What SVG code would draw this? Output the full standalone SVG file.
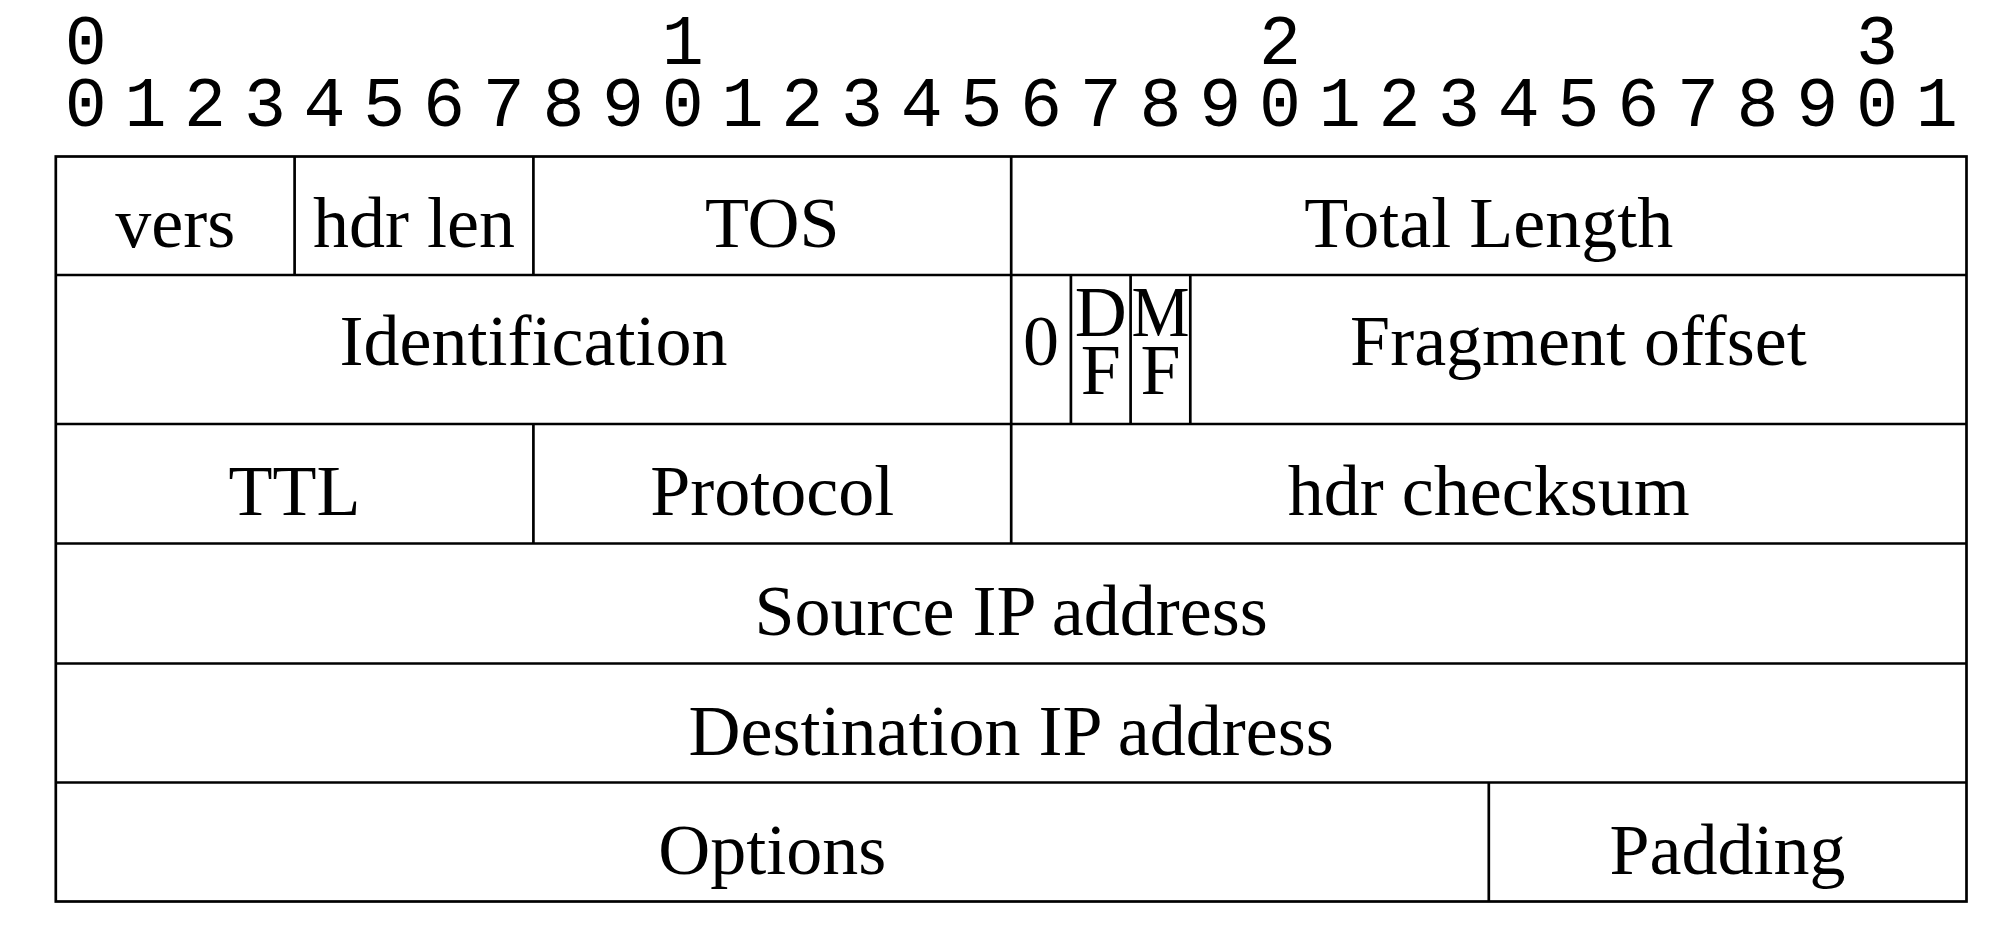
<svg xmlns="http://www.w3.org/2000/svg" width="2014" height="932" viewBox="0 0 2014 932">
<style>
.ln{stroke:#000;stroke-width:2.7;fill:none}
.t{font-family:"Liberation Serif","Times New Roman",serif;font-size:72px;fill:#000;text-anchor:middle}
.d{font-family:"Liberation Mono","Courier New",monospace;font-size:70px;fill:#000;text-anchor:middle}
</style>
<rect width="2014" height="932" fill="#fff"/>
<g id="bit-ruler">
<text class="d" x="85.7" y="64">0</text>
<text class="d" x="682.8" y="64">1</text>
<text class="d" x="1279.9" y="64">2</text>
<text class="d" x="1877.0" y="64">3</text>
<text class="d" y="126"><tspan x="85.7">0</tspan><tspan x="145.4">1</tspan><tspan x="205.1">2</tspan><tspan x="264.9">3</tspan><tspan x="324.6">4</tspan><tspan x="384.3">5</tspan><tspan x="444.0">6</tspan><tspan x="503.7">7</tspan><tspan x="563.4">8</tspan><tspan x="623.1">9</tspan><tspan x="682.8">0</tspan><tspan x="742.6">1</tspan><tspan x="802.3">2</tspan><tspan x="862.0">3</tspan><tspan x="921.7">4</tspan><tspan x="981.4">5</tspan><tspan x="1041.1">6</tspan><tspan x="1100.8">7</tspan><tspan x="1160.5">8</tspan><tspan x="1220.2">9</tspan><tspan x="1279.9">0</tspan><tspan x="1339.7">1</tspan><tspan x="1399.4">2</tspan><tspan x="1459.1">3</tspan><tspan x="1518.8">4</tspan><tspan x="1578.5">5</tspan><tspan x="1638.2">6</tspan><tspan x="1697.9">7</tspan><tspan x="1757.6">8</tspan><tspan x="1817.3">9</tspan><tspan x="1877.0">0</tspan><tspan x="1936.8">1</tspan></text>
</g>
<g id="grid">
<rect class="ln" x="55.8" y="156.5" width="1910.7" height="745"/>
<line class="ln" x1="55.8" y1="275" x2="1966.5" y2="275"/>
<line class="ln" x1="55.8" y1="424" x2="1966.5" y2="424"/>
<line class="ln" x1="55.8" y1="543.5" x2="1966.5" y2="543.5"/>
<line class="ln" x1="55.8" y1="663.5" x2="1966.5" y2="663.5"/>
<line class="ln" x1="55.8" y1="782.5" x2="1966.5" y2="782.5"/>
<line class="ln" x1="294.6" y1="156.5" x2="294.6" y2="275"/>
<line class="ln" x1="533.4" y1="156.5" x2="533.4" y2="275"/>
<line class="ln" x1="1011.2" y1="156.5" x2="1011.2" y2="543.5"/>
<line class="ln" x1="1070.9" y1="275" x2="1070.9" y2="424"/>
<line class="ln" x1="1130.6" y1="275" x2="1130.6" y2="424"/>
<line class="ln" x1="1190.3" y1="275" x2="1190.3" y2="424"/>
<line class="ln" x1="533.4" y1="424" x2="533.4" y2="543.5"/>
<line class="ln" x1="1488.8" y1="782.5" x2="1488.8" y2="901.5"/>
</g>
<g id="vers"><text class="t" x="175.2" y="247">vers</text></g>
<g id="hdr-len"><text class="t" x="414" y="247">hdr len</text></g>
<g id="tos"><text class="t" x="772.3" y="247">TOS</text></g>
<g id="total-length"><text class="t" x="1488.8" y="247">Total Length</text></g>
<g id="identification"><text class="t" x="533.5" y="365">Identification</text></g>
<g id="zero"><text class="t" x="1041" y="365">0</text></g>
<g id="df"><text class="t" x="1100.7" y="336">D</text><text class="t" x="1100.7" y="394">F</text></g>
<g id="mf"><text class="t" x="1160.4" y="336" textLength="58" lengthAdjust="spacingAndGlyphs">M</text><text class="t" x="1160.4" y="394">F</text></g>
<g id="fragment-offset"><text class="t" x="1578.4" y="365">Fragment offset</text></g>
<g id="ttl"><text class="t" x="294.6" y="515">TTL</text></g>
<g id="protocol"><text class="t" x="772.3" y="515">Protocol</text></g>
<g id="hdr-checksum"><text class="t" x="1488.8" y="515">hdr checksum</text></g>
<g id="source-ip"><text class="t" x="1011.2" y="634.5">Source IP address</text></g>
<g id="destination-ip"><text class="t" x="1011.2" y="754.5">Destination IP address</text></g>
<g id="options"><text class="t" x="772.3" y="873.5">Options</text></g>
<g id="padding"><text class="t" x="1727.6" y="873.5">Padding</text></g>
</svg>
